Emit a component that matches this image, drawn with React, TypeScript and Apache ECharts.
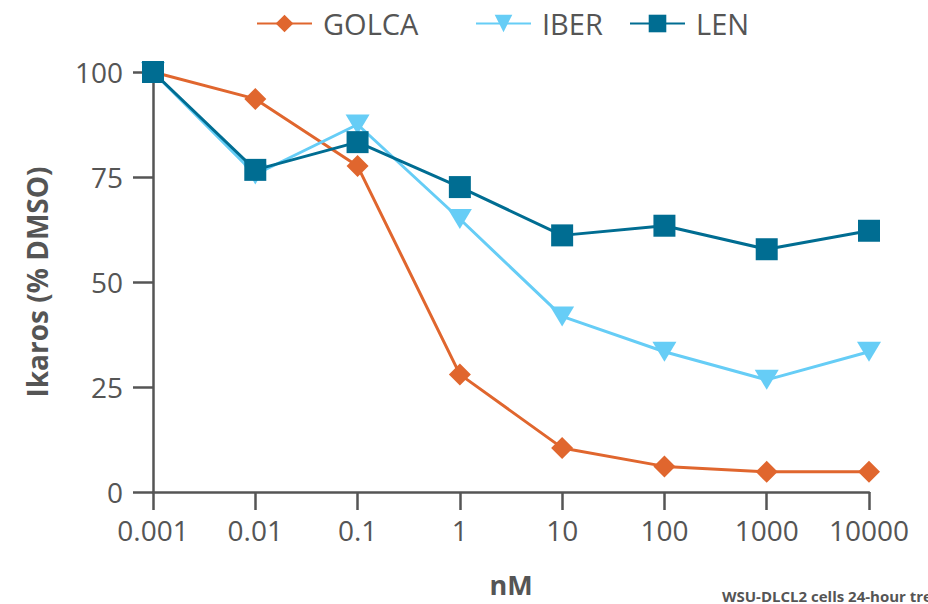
import React, { useEffect, useRef } from "react";
import * as echarts from "echarts";

const categories = ["0.001", "0.01", "0.1", "1", "10", "100", "1000", "10000"];
const golca = [100, 93.6, 77.6, 28, 10.5, 6.1, 4.8, 4.8];
const iber = [100, 75.6, 87.5, 65, 41.8, 33.4, 26.7, 33.4];
const len = [100, 76.7, 83.3, 72.6, 61.1, 63.4, 57.8, 62.2];
const yTicks = [0, 25, 50, 75, 100];

const FONT = "Open Sans";
const TEXT = "#555555";

export default function App() {
  const ref = useRef<HTMLDivElement>(null);
  useEffect(() => {
    const chart = echarts.init(ref.current!, null, { renderer: "svg" });
    const mkLegend = (name: string, left: number) => ({
      data: [name],
      left,
      top: 4,
      itemWidth: 55,
      itemHeight: 22,
      itemGap: 0,
      textStyle: { fontFamily: FONT, fontSize: 29, color: TEXT, padding: [0, 0, 0, 6] },
    });
    chart.setOption({
      animation: false,
      textStyle: { fontFamily: FONT },
      legend: [mkLegend("GOLCA", 251), mkLegend("IBER", 470), mkLegend("LEN", 624)],
      grid: {
        left: 153,
        right: 59,
        top: 72,
        bottom: 112,
        containLabel: false,
        outerBoundsMode: "none",
      },
      xAxis: {
        type: "category",
        data: categories,
        boundaryGap: false,
        name: "nM",
        nameLocation: "middle",
        nameGap: 79,
        nameTextStyle: { fontFamily: FONT, fontSize: 27, fontWeight: "bold", color: TEXT },
        axisLine: { lineStyle: { color: TEXT, width: 2.5 } },
        axisTick: { show: true, length: 18, alignWithLabel: true, interval: 0, lineStyle: { color: TEXT, width: 2.5 } },
        axisLabel: { fontFamily: FONT, fontSize: 28, color: TEXT, margin: 24, interval: 0, hideOverlap: false },
      },
      yAxis: {
        type: "value",
        min: 0,
        max: 100,
        interval: 25,
        name: "Ikaros (% DMSO)",
        nameLocation: "middle",
        nameGap: 102,
        nameTextStyle: { fontFamily: FONT, fontSize: 28, fontWeight: "bold", color: TEXT },
        axisLine: { show: true, lineStyle: { color: TEXT, width: 2.5 } },
        axisTick: { show: true, length: 20, lineStyle: { color: TEXT, width: 2.5 } },
        axisLabel: {
          fontFamily: FONT,
          fontSize: 28,
          color: TEXT,
          margin: 30,
          formatter: (v: number) => (yTicks.includes(v) ? String(v) : ""),
        },
        splitLine: { show: false },
      },
      series: [
        {
          name: "GOLCA",
          type: "line",
          data: golca,
          symbol: "diamond",
          symbolSize: [22, 22],
          lineStyle: { color: "#E0662E", width: 3 },
          itemStyle: { color: "#E0662E" },
          z: 3,
        },
        {
          name: "IBER",
          type: "line",
          data: iber,
          symbol: "triangle",
          symbolRotate: 180,
          symbolSize: [24, 20],
          lineStyle: { color: "#66CDF6", width: 3 },
          itemStyle: { color: "#66CDF6" },
          z: 4,
        },
        {
          name: "LEN",
          type: "line",
          data: len,
          symbol: "rect",
          symbolSize: 22,
          lineStyle: { color: "#006D92", width: 3 },
          itemStyle: { color: "#006D92" },
          z: 5,
        },
      ],
      graphic: [
        {
          type: "text",
          left: 722,
          top: 588,
          style: {
            text: "WSU-DLCL2 cells 24-hour treatment",
            fontFamily: FONT,
            fontSize: 15,
            fontWeight: "bold",
            fill: TEXT,
          },
        },
      ],
    });
    return () => chart.dispose();
  }, []);
  return <div ref={ref} style={{ width: 928, height: 604, position: "absolute", left: 0, top: 0 }} />;
}
